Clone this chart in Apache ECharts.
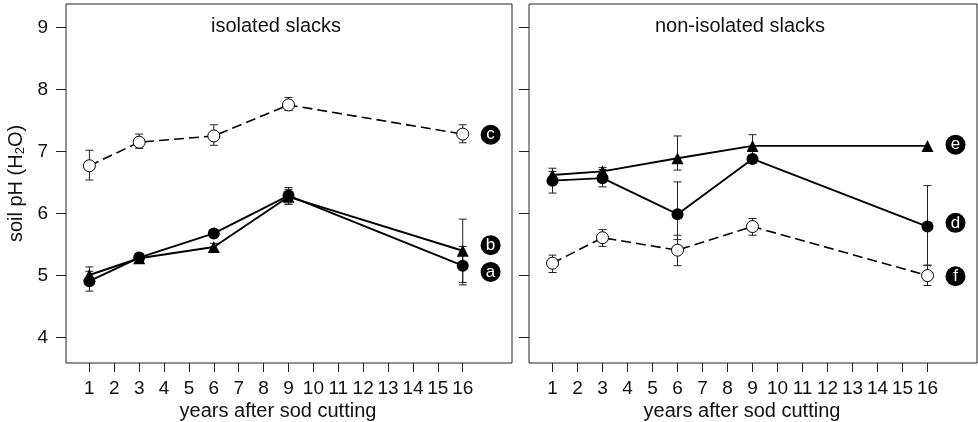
<!DOCTYPE html>
<html>
<head>
<meta charset="utf-8">
<script src="https://cdn.jsdelivr.net/npm/echarts@6/dist/echarts.min.js"></script>
<style>
html,body{margin:0;padding:0;background:#fff;}
#chart{width:978px;height:422px;}
</style>
</head>
<body>
<div id="chart"></div>
<script>
// ---- data ----
const years = [1, 3, 6, 9, 16];
const xTicks = [1,2,3,4,5,6,7,8,9,10,11,12,13,14,15,16];
const yTicks = [4,5,6,7,8,9];

// isolated slacks
const aVal = [4.91, 5.29, 5.68, 6.29, 5.16];
const aLo  = [4.75, 5.23, 5.62, 6.15, 4.85];
const aHi  = [5.07, 5.35, 5.74, 6.42, 5.47];
const bVal = [5.01, 5.28, 5.46, 6.27, 5.40];
const bLo  = [4.88, 5.22, 5.40, 6.15, 4.89];
const bHi  = [5.14, 5.34, 5.52, 6.39, 5.91];
const cVal = [6.77, 7.15, 7.25, 7.75, 7.28];
const cLo  = [6.54, 7.05, 7.10, 7.66, 7.14];
const cHi  = [7.02, 7.28, 7.43, 7.87, 7.43];

// non-isolated slacks
const dVal = [6.53, 6.57, 5.99, 6.88, 5.79];
const dLo  = [6.33, 6.43, 5.58, 6.82, 5.17];
const dHi  = [6.73, 6.71, 6.51, 6.94, 6.45];
const eVal = [6.62, 6.68, 6.89, 7.09, 7.09];
const eLo  = [6.56, 6.62, 6.70, 6.92, null];
const eHi  = [6.68, 6.74, 7.25, 7.27, null];
const fVal = [5.20, 5.61, 5.41, 5.79, 5.00];
const fLo  = [5.05, 5.47, 5.16, 5.65, 4.84];
const fHi  = [5.33, 5.74, 5.65, 5.92, 5.16];

// letter badges (x in years, y in pH)
const badgeX = 17.12;
const leftBadges  = [['a', 5.06], ['b', 5.49], ['c', 7.27]];
const rightBadges = [['d', 5.85], ['e', 7.11], ['f', 4.99]];

const panelTitles = ['isolated slacks', 'non-isolated slacks'];
const xTitle = 'years after sod cutting';

// ---- chart ----
const FONT = 'Liberation Sans, Arial, Helvetica, sans-serif';
const chart = echarts.init(document.getElementById('chart'), null, {renderer: 'canvas'});

function xAxis(gi) {
  return {
    type: 'value', gridIndex: gi, min: 0.06, max: 17.98,
    axisLine: {show: false},
    splitLine: {show: false},
    axisTick: {show: true, length: 9, inside: false, customValues: xTicks, lineStyle: {color: '#222', width: 1}},
    axisLabel: {show: true, customValues: xTicks, margin: 16, color: '#111', fontSize: 19, fontFamily: FONT}
  };
}
function yAxis(gi, labels) {
  const ax = {
    type: 'value', gridIndex: gi, min: 3.592, max: 9.376,
    axisLine: {show: false},
    splitLine: {show: false},
    axisTick: {show: true, length: 10, inside: false, customValues: yTicks, lineStyle: {color: '#222', width: 1}},
    axisLabel: {show: labels, customValues: yTicks, margin: 18, color: '#111', fontSize: 19, fontFamily: FONT}
  };
  if (labels) {
    ax.name = '{a|soil pH (H}{s|2}{a|O)}';
    ax.nameLocation = 'middle';
    ax.nameGap = 39;
    ax.nameRotate = 90;
    ax.nameTextStyle = {
      rich: {
        a: {fontSize: 20, fontFamily: FONT, color: '#111'},
        s: {fontSize: 13, fontFamily: FONT, color: '#111', verticalAlign: 'bottom', padding: [9, 0, 0, 0]}
      }
    };
  }
  return ax;
}

function errSeries(gi, lo, hi) {
  const data = [];
  years.forEach((x, i) => { if (lo[i] != null && hi[i] != null) data.push([x, lo[i], hi[i]]); });
  return {
    type: 'custom', xAxisIndex: gi, yAxisIndex: gi, z: 1, silent: true,
    encode: {x: 0, y: [1, 2]},
    data: data,
    renderItem: function (params, api) {
      const x = api.value(0);
      const p1 = api.coord([x, api.value(1)]);
      const p2 = api.coord([x, api.value(2)]);
      const w = 4;
      const st = {stroke: '#222', lineWidth: 1};
      return {type: 'group', children: [
        {type: 'line', shape: {x1: p1[0], y1: p1[1], x2: p2[0], y2: p2[1]}, style: st},
        {type: 'line', shape: {x1: p1[0] - w, y1: p1[1], x2: p1[0] + w, y2: p1[1]}, style: st},
        {type: 'line', shape: {x1: p2[0] - w, y1: p2[1], x2: p2[0] + w, y2: p2[1]}, style: st}
      ]};
    }
  };
}

function lineSeries(gi, vals, kind) {
  const base = {
    type: 'line', xAxisIndex: gi, yAxisIndex: gi, z: 3,
    data: years.map((x, i) => [x, vals[i]]),
    showAllSymbol: true, animation: false, silent: true,
    lineStyle: {color: '#000', width: 1.9, type: 'solid'}
  };
  if (kind === 'circle') {
    base.symbol = 'circle'; base.symbolSize = 12;
    base.itemStyle = {color: '#000', borderWidth: 0, opacity: 1};
  } else if (kind === 'triangle') {
    base.symbol = 'triangle'; base.symbolSize = 12;
    base.itemStyle = {color: '#000', borderWidth: 0, opacity: 1};
  } else {
    base.symbol = 'circle'; base.symbolSize = 12;
    base.itemStyle = {color: '#fff', borderColor: '#000', borderWidth: 1, opacity: 1};
    base.lineStyle = {color: '#000', width: 1.6, type: [10, 5]};
    base.z = 2;
  }
  return base;
}

function badgeSeries(gi, badges) {
  return {
    type: 'scatter', xAxisIndex: gi, yAxisIndex: gi, z: 5, silent: true,
    symbol: 'circle', symbolSize: 20,
    itemStyle: {color: '#000', opacity: 1},
    data: badges.map(b => ({value: [badgeX, b[1]], name: b[0]})),
    label: {show: true, position: 'inside', formatter: p => p.name, color: '#fff', fontSize: 17, fontFamily: FONT}
  };
}

const titleStyle = {fontSize: 20, fontWeight: 'normal', color: '#111', fontFamily: FONT};
const option = {
  animation: false,
  backgroundColor: '#fff',
  textStyle: {fontFamily: FONT},
  grid: [
    {left: 66, top: 4, width: 446, height: 359, show: true, borderColor: '#222', borderWidth: 1, backgroundColor: 'transparent'},
    {left: 529, top: 4, width: 448, height: 359, show: true, borderColor: '#222', borderWidth: 1, backgroundColor: 'transparent'}
  ],
  title: [
    {text: panelTitles[0], left: 276, top: 16, padding: 0, textAlign: 'center', textStyle: titleStyle},
    {text: panelTitles[1], left: 740, top: 16, padding: 0, textAlign: 'center', textStyle: titleStyle},
    {text: xTitle, left: 278, top: 401, padding: 0, textAlign: 'center', textStyle: titleStyle},
    {text: xTitle, left: 742, top: 401, padding: 0, textAlign: 'center', textStyle: titleStyle}
  ],
  xAxis: [xAxis(0), xAxis(1)],
  yAxis: [yAxis(0, true), yAxis(1, false)],
  series: [
    errSeries(0, aLo, aHi), errSeries(0, bLo, bHi), errSeries(0, cLo, cHi),
    lineSeries(0, cVal, 'open'), lineSeries(0, bVal, 'triangle'), lineSeries(0, aVal, 'circle'),
    badgeSeries(0, leftBadges),
    errSeries(1, dLo, dHi), errSeries(1, eLo, eHi), errSeries(1, fLo, fHi),
    lineSeries(1, fVal, 'open'), lineSeries(1, eVal, 'triangle'), lineSeries(1, dVal, 'circle'),
    badgeSeries(1, rightBadges)
  ]
};
chart.setOption(option);
</script>
</body>
</html>
